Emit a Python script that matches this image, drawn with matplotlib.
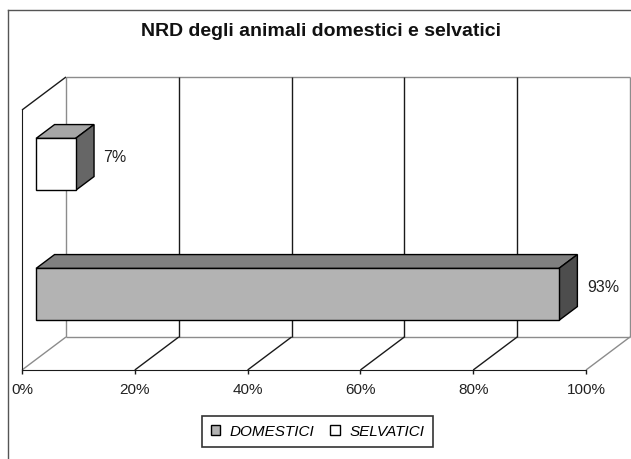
import numpy as np
import matplotlib.pyplot as plt
from matplotlib.patches import Polygon, Patch

plt.rcParams['font.family'] = ['Liberation Sans', 'DejaVu Sans']

# data
categories = ["DOMESTICI", "SELVATICI"]
values = [92.7, 7.0]
x_ticks = [0, 20, 40, 60, 80, 100]
x_tick_labels = ["0%", "20%", "40%", "60%", "80%", "100%"]
title = "NRD degli animali domestici e selvatici"

# face colours per series: front, top, side
front_colors = ["#b3b3b3", "#ffffff"]
top_colors = ["#808080", "#a6a6a6"]
side_colors = ["#4d4d4d", "#666666"]

# fake 3d depth (in data units)
DX = 7.8
DY = 0.254
F0, F1 = 0.32, 0.74
BAR_H = 0.4
GREY = "#8c8c8c"
DARK = "#1a1a1a"


def proj(x, y, f):
    return (x + f * DX, y + f * DY)


W, H = 631, 459
fig = plt.figure(figsize=(W / 100, H / 100), dpi=100)
ax = fig.add_axes([22 / W, (H - 370) / H, 564 / W, 260 / H])
ax.set_xlim(0, 100)
ax.set_ylim(0, len(categories))
ax.patch.set_visible(False)
for s in ["top", "right"]:
    ax.spines[s].set_visible(False)
ax.spines["bottom"].set_color(DARK)
ax.spines["left"].set_color(DARK)
ax.set_yticks([])
ax.set_xticks(x_ticks)
ax.set_xticklabels(x_tick_labels, fontsize=11, color="#222222")
ax.tick_params(axis="x", direction="out", length=3, width=1, color=DARK, pad=6)

top = len(categories)


def line(p, q, color, lw=1.0, z=1):
    ax.plot([p[0], q[0]], [p[1], q[1]], color=color, lw=lw, clip_on=False, zorder=z,
            solid_capstyle="butt")


# back wall
line(proj(0, 0, 1), proj(100, 0, 1), GREY)
line(proj(0, top, 1), proj(100, top, 1), GREY)
line(proj(0, 0, 1), proj(0, top, 1), GREY)
line(proj(100, 0, 1), proj(100, top, 1), GREY)
for t in x_ticks[1:-1]:
    line(proj(t, 0, 1), proj(t, top, 1), DARK)
# floor diagonals
for t in x_ticks:
    c = GREY if t in (0, 100) else DARK
    line(proj(t, 0, 0), proj(t, 0, 1), c)
# left wall top edge
line(proj(0, top, 0), proj(0, top, 1), DARK)

# bars
for i, (cat, v) in enumerate(zip(categories, values)):
    yc = i + 0.5
    y0, y1 = yc - BAR_H / 2, yc + BAR_H / 2
    front = [proj(0, y0, F0), proj(v, y0, F0), proj(v, y1, F0), proj(0, y1, F0)]
    topf = [proj(0, y1, F0), proj(v, y1, F0), proj(v, y1, F1), proj(0, y1, F1)]
    side = [proj(v, y0, F0), proj(v, y0, F1), proj(v, y1, F1), proj(v, y1, F0)]
    for pts, fc in [(topf, top_colors[i]), (side, side_colors[i]), (front, front_colors[i])]:
        ax.add_patch(Polygon(pts, closed=True, facecolor=fc, edgecolor="black",
                             lw=1.0, zorder=5, clip_on=False, joinstyle="miter"))
    lx, ly = proj(v, yc, (F0 + F1) / 2)
    ax.text(lx + 3.3, ly, f"{v:.0f}%", fontsize=11.5, color="#222222",
            ha="left", va="center", zorder=6)

# title
fig.text(321 / W, 1 - 31 / H, title, fontsize=14, fontweight="bold",
         ha="center", va="center", color="#111111")

# legend
handles = [Patch(facecolor=front_colors[i], edgecolor="black", lw=1.0, label=c)
           for i, c in enumerate(categories)]
leg = fig.legend(handles=handles, loc="center", ncol=2,
                 bbox_to_anchor=(317.5 / W, 1 - 431.5 / H),
                 prop={"style": "italic", "size": 11},
                 handlelength=0.6, handleheight=0.6, handletextpad=0.65,
                 columnspacing=1.05, fancybox=False, framealpha=1,
                 borderpad=0.55, borderaxespad=0)
leg.get_frame().set_edgecolor("#333333")
leg.get_frame().set_linewidth(1.2)

# outer chart frame (left and top edges visible)
fig.add_artist(plt.Line2D([8 / W, 8 / W], [0, 1 - 10 / H], color="#555555", lw=1,
                          transform=fig.transFigure))
fig.add_artist(plt.Line2D([8 / W, 1], [1 - 10 / H, 1 - 10 / H], color="#555555", lw=1,
                          transform=fig.transFigure))

fig.savefig("out.png", dpi=100)
